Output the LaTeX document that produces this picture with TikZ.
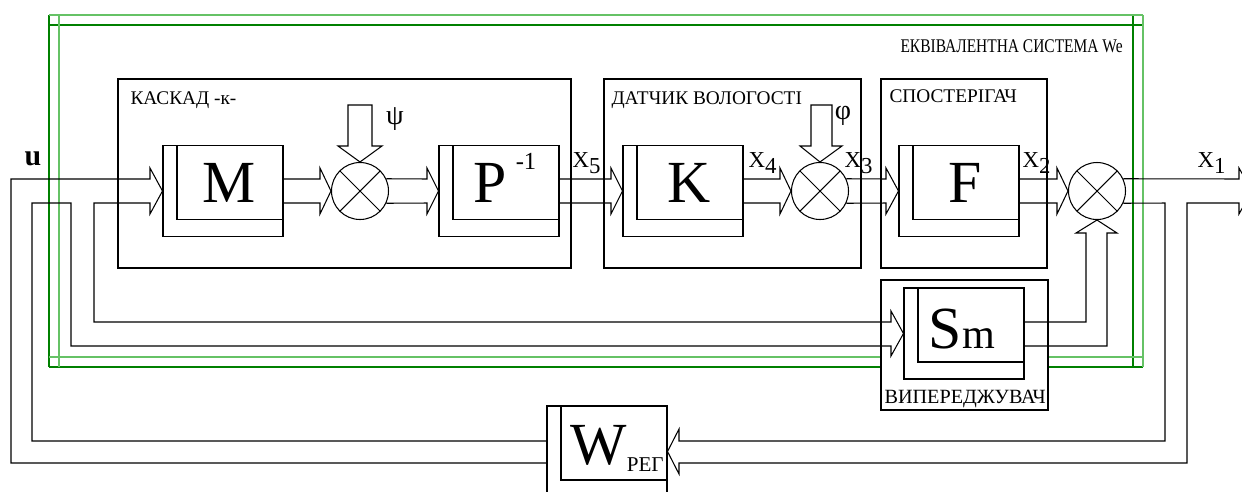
\documentclass[tikz,border=0pt]{standalone}
\usepackage{fontspec}
\setmainfont{Liberation Serif}

\newcommand{\xsub}[1]{X\raisebox{-3.5pt}{#1}}

\begin{document}
\begin{tikzpicture}[x=0.02cm, y=-0.02cm, line width=0.6pt,
  blockbox/.style={draw, fill=white, minimum width=2.4cm, minimum height=1.82cm, inner sep=0pt,
    path picture={\draw ([shift={(14,-17)}]path picture bounding box.south west) rectangle (path picture bounding box.north east);}},
  blocktext/.style={label={[biglet, shift={(6,-8)}]center:{#1}}},
  biglet/.style={font=\fontsize{34}{34}\selectfont, inner sep=0pt},
  sumnode/.style={draw, fill=white, circle, minimum size=1.14cm, inner sep=0pt,
    path picture={\draw (path picture bounding box.north west) -- (path picture bounding box.south east)
      (path picture bounding box.north east) -- (path picture bounding box.south west);}},
  lbl/.style={font=\fontsize{11}{13}\selectfont, inner sep=0pt, anchor=base west},
  xlbl/.style={font=\fontsize{13}{13}\selectfont, inner sep=0pt, anchor=base west},
  greenA/.style={draw=green!50!black},
  greenB/.style={draw=green!60!black!60}]

\useasboundingbox (0,0) rectangle (1242,491);

% equivalent system frame
\draw[greenA] (49,25) -- (1143,25) (49,367) -- (1143,367) (49,15) -- (49,367) (1133,15) -- (1133,367);
\draw[greenB] (49,15) -- (1143,15) (49,357) -- (1143,357) (59,15) -- (59,367) (1143,15) -- (1143,367);

% group frames
\draw (118,79) rectangle (571,268);
\draw (604,79) rectangle (861,268);
\draw (881,79) rectangle (1047,268);
\draw[fill=white] (881,280) rectangle (1048,410);

% blocks
\node[blockbox, blocktext=M] (M) at (223,191) {};
\node[blockbox, blocktext={P\hspace{5pt}\raisebox{19pt}[0pt][0pt]{\fontsize{14}{14}\selectfont -1}}] (P) at (499,191) {};
\node[blockbox, blocktext=K] (K) at (683,191) {};
\node[blockbox, blocktext=F] (F) at (959,191) {};
\node[blockbox, label={[biglet, shift={(-2,-4)}]center:{S{\fontsize{24}{24}\selectfont m}}}] (Sm) at (964,333.5) {};
\node[blockbox, label={[biglet, shift={(10,-6)}]center:{W\raisebox{-4pt}[0pt][0pt]{\fontsize{12}{12}\selectfont РЕГ}}}] (W) at (607,451.5) {};

% summing points
\node[sumnode] (C1) at (360,191) {};
\node[sumnode] (C2) at (820,191) {};
\node[sumnode] (C3) at (1097,191) {};

% forward path
\draw (M.east |- 0,179) -- (320,179) -- (320,168) -- (C1.west) -- (320,214) -- (320,203) -- (M.east |- 0,203);
\draw (C1.25) -- (427,179) -- (427,168) -- (P.west) -- (427,214) -- (427,203) -- (C1.-25);
\draw (P.east |- 0,179) -- (611,179) -- (611,168) -- (K.west) -- (611,214) -- (611,203) -- (P.east |- 0,203);
\draw (K.east |- 0,179) -- (780,179) -- (780,168) -- (C2.west) -- (780,214) -- (780,203) -- (K.east |- 0,203);
\draw (C2.25) -- (886,179) -- (886,168) -- (F.west) -- (886,214) -- (886,203) -- (C2.-25);
\draw (F.east |- 0,179) -- (1057,179) -- (1057,168) -- (C3.west) -- (1057,214) -- (1057,203) -- (F.east |- 0,203);

% disturbances
\draw (348,105) -- (348,146) -- (338,146) -- (C1.north) -- (382,146) -- (372,146) -- (372,105) -- cycle;
\draw (811,105) -- (811,146) -- (800,146) -- (C2.north) -- (842,146) -- (832,146) -- (832,105) -- cycle;

% lead block to summing point
\draw (Sm.east |- 0,322) -- (1086,322) -- (1086,233) -- (1076,233) -- (C3.south) -- (1117,233) -- (1107,233) -- (1107,346) -- (Sm.east |- 0,346);

% output and feedback
\draw (C3.25) -- (1239,179) -- (1239,168) -- (1252,191) -- (1239,214) -- (1239,203) -- (1187,203) -- (1187,463)
  -- (679,463) -- (679,474) -- (W.east) -- (679,429) -- (679,441) -- (1165,441) -- (1165,203) -- (C3.-25);
\draw (W.west |- 0,463) -- (11,463) -- (11,179) -- (150,179) -- (150,168) -- (M.west) -- (150,214) -- (150,203)
  -- (94,203) -- (94,322) -- (891,322) -- (891,311) -- (Sm.west) -- (891,356) -- (891,346) -- (71,346)
  -- (71,203) -- (32,203) -- (32,441) -- (W.west |- 0,441);

% labels
\node[lbl] (tcascade) at (130,104) {КАСКАД -к-};
\node[lbl] (tsensor) at (611,104) {ДАТЧИК ВОЛОГОСТІ};
\node[lbl] (tobserver) at (889,102) {СПОСТЕРІГАЧ};
\node[lbl] (tequiv) at (900,52) {\scalebox{0.8}[1]{ЕКВІВАЛЕНТНА СИСТЕМА We}};
\node[lbl, font=\fontsize{11.5}{13}\selectfont] (tlead) at (884,403) {ВИПЕРЕДЖУВАЧ};

\node[font=\fontsize{17}{17}\selectfont\bfseries, inner sep=0pt, anchor=base] (ulbl) at (33,165) {u};
\node[font=\fontsize{16}{16}\selectfont, inner sep=0pt] (psi) at (395,119) {ψ};
\node[font=\fontsize{16}{16}\selectfont, inner sep=0pt] (phi) at (843,116) {φ};

\node[xlbl] (x5) at (572,167) {\xsub{5}};
\node[xlbl] (x4) at (748,167) {\xsub{4}};
\node[xlbl] (x3) at (844,167) {\xsub{3}};
\node[xlbl] (x2) at (1022,167) {\xsub{2}};
\node[xlbl] (x1) at (1197,167) {\xsub{1}};

\end{tikzpicture}
\end{document}
